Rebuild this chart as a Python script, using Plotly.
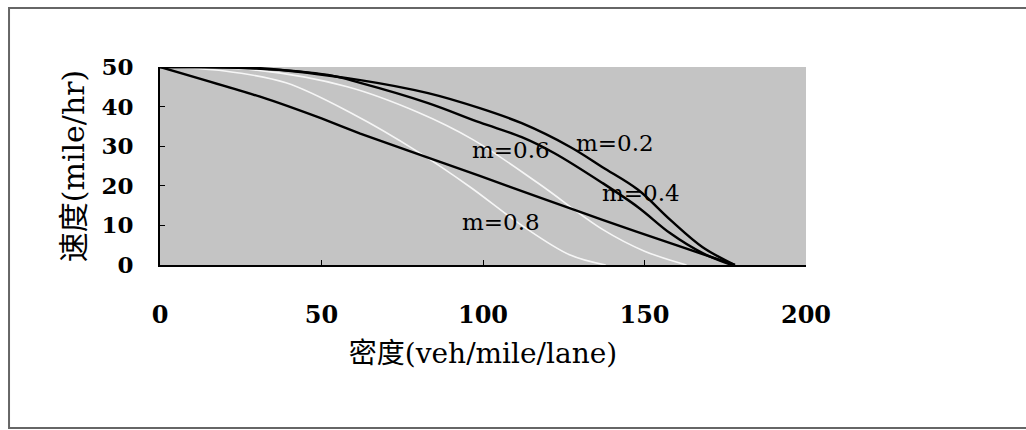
import plotly.graph_objects as go

# density (veh/mile/lane) and speed (mile/hr)
k_lin = [0, 31, 50, 62, 99, 117, 137, 158, 178]
v_lin = [50, 42.5, 37, 33.2, 22.5, 17.2, 11.4, 5.5, 0]

k_m02 = [0, 31, 62, 83, 99, 112, 127, 137, 148, 158, 168, 178]
v_m02 = [50, 49.7, 46.7, 43.4, 39.6, 35.8, 29.8, 24.7, 19, 11.4, 4.5, 0]

k_m04 = [0, 30, 52, 62, 83, 99, 112, 122, 137, 148, 158, 168, 177]
v_m04 = [50, 49.6, 48, 46, 40.9, 36, 32.3, 28.3, 20.7, 14.6, 8, 3, 0]

k_m06 = [0, 30, 58, 80, 97, 117, 137, 150, 163]
v_m06 = [50, 49.2, 45, 38.5, 31.6, 20.7, 9, 3.5, 0]

k_m08 = [0, 20, 39, 60, 80, 96, 112, 127, 138]
v_m08 = [50, 49, 46, 38, 28.5, 19.7, 10, 2.5, 0]

labels = ["m=0.2", "m=0.4", "m=0.6", "m=0.8"]
label_k = [140.9, 148.9, 108.7, 105.6]
label_v = [30.8, 18.2, 29.0, 10.9]

x_ticks = [0, 50, 100, 150, 200]
y_ticks = [0, 10, 20, 30, 40, 50]

serif = "DejaVu Serif, Liberation Serif, Noto Sans CJK SC"

fig = go.Figure()
for kk, vv in [(k_m08, v_m08), (k_m06, v_m06)]:
    fig.add_trace(go.Scatter(x=kk, y=vv, mode="lines",
                             line=dict(color="rgba(255,255,255,0.85)", width=1.6, shape="spline"),
                             hoverinfo="skip"))
fig.add_trace(go.Scatter(x=k_lin, y=v_lin, mode="lines",
                         line=dict(color="black", width=2.4, shape="spline", smoothing=0.4),
                         hoverinfo="skip"))
for kk, vv in [(k_m04, v_m04), (k_m02, v_m02)]:
    fig.add_trace(go.Scatter(x=kk, y=vv, mode="lines",
                             line=dict(color="black", width=2.4, shape="spline"),
                             hoverinfo="skip"))

for t, kx, vy in zip(labels, label_k, label_v):
    fig.add_annotation(x=kx, y=vy, text=t, showarrow=False,
                       font=dict(family=serif, size=23, color="black"))

# outer chart frame; its right side lies beyond the page edge
fig.add_shape(type="rect", xref="paper", yref="paper", x0=-0.2337, x1=1.6, y0=-0.823, y1=1.298,
              line=dict(color="#666666", width=2), fillcolor="rgba(0,0,0,0)", layer="below")

fig.update_layout(
    width=1026, height=430,
    margin=dict(l=160, r=220, t=67, b=165),
    paper_bgcolor="white",
    plot_bgcolor="#c4c4c4",
    showlegend=False,
    font=dict(family=serif, color="black"),
)
fig.update_xaxes(range=[0, 200], tickvals=x_ticks, ticktext=[f"<b>{v}</b>" for v in x_ticks],
                 ticks="inside", ticklen=5, tickcolor="black", showgrid=False, zeroline=False,
                 showline=True, linecolor="black", linewidth=2,
                 tickfont=dict(family=serif, size=24), ticklabelstandoff=27,
                 title=dict(text="密度(veh/mile/lane)", font=dict(family=serif, size=28), standoff=16))
fig.update_yaxes(range=[0, 50], tickvals=y_ticks, ticktext=[f"<b>{v}</b>" for v in y_ticks],
                 ticks="inside", ticklen=5, tickcolor="black", showgrid=False, zeroline=False,
                 showline=True, linecolor="black", linewidth=2,
                 tickfont=dict(family=serif, size=23), ticklabelstandoff=20,
                 title=dict(text="速度(mile/hr)", font=dict(family=serif, size=30), standoff=8))

fig.write_html("out.html", config={"displayModeBar": False},
               post_script="document.body.style.margin='0';")
